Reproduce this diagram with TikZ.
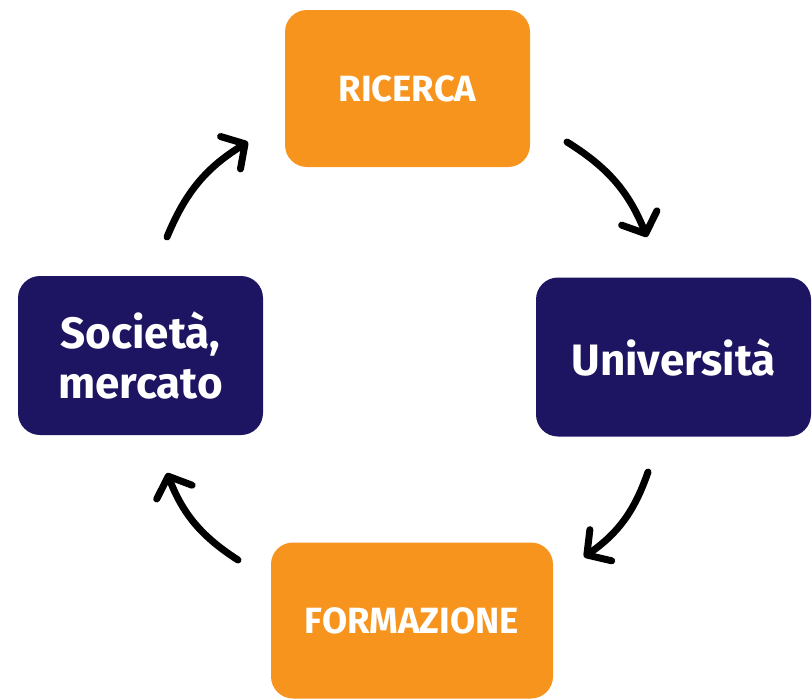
\documentclass[tikz,border=0pt]{standalone}
\usepackage{fontspec}
\setmainfont{Fira Sans}
\usetikzlibrary{arrows.meta}
\definecolor{orng}{RGB}{247,148,30}
\definecolor{navy}{RGB}{29,21,97}
\begin{document}
\begin{tikzpicture}[x=1pt,y=-1pt,
  box/.style={rounded corners=22pt, inner sep=0pt, text=white, align=center},
  obox/.style={box, fill=orng, font=\fontsize{36.5}{44}\selectfont\bfseries},
  nbox/.style={box, fill=navy, font=\fontsize{44}{51}\selectfont\bfseries},
  cyc/.style={line width=7pt, line cap=round,
    -{Straight Barb[length=17pt,width=38pt,line width=7pt,round]}, bend left=18}]
\useasboundingbox (0,0) rectangle (812,699);
\node[obox, minimum width=245pt, minimum height=157pt] (ric) at (407.5,88.5) {RICERCA};
\node[nbox, minimum width=275pt, minimum height=159pt] (uni) at (673.5,357) {Università};
\node[nbox, minimum width=245pt, minimum height=159pt] (soc) at (140.5,355.5) {Società,\\mercato};
\node[obox, minimum width=282pt, minimum height=156pt] (for) at (412,620.5) {FORMAZIONE};
\coordinate (a1s) at (167,237); \coordinate (a1e) at (248,142);
\coordinate (a2s) at (567,142); \coordinate (a2e) at (647,237);
\coordinate (a3s) at (648,472); \coordinate (a3e) at (584,557);
\coordinate (a4s) at (238,560); \coordinate (a4e) at (167,473);
\draw[cyc] (a1s) to (a1e);
\draw[cyc] (a2s) to (a2e);
\draw[cyc] (a3s) to (a3e);
\draw[cyc] (a4s) to (a4e);
\end{tikzpicture}
\end{document}
